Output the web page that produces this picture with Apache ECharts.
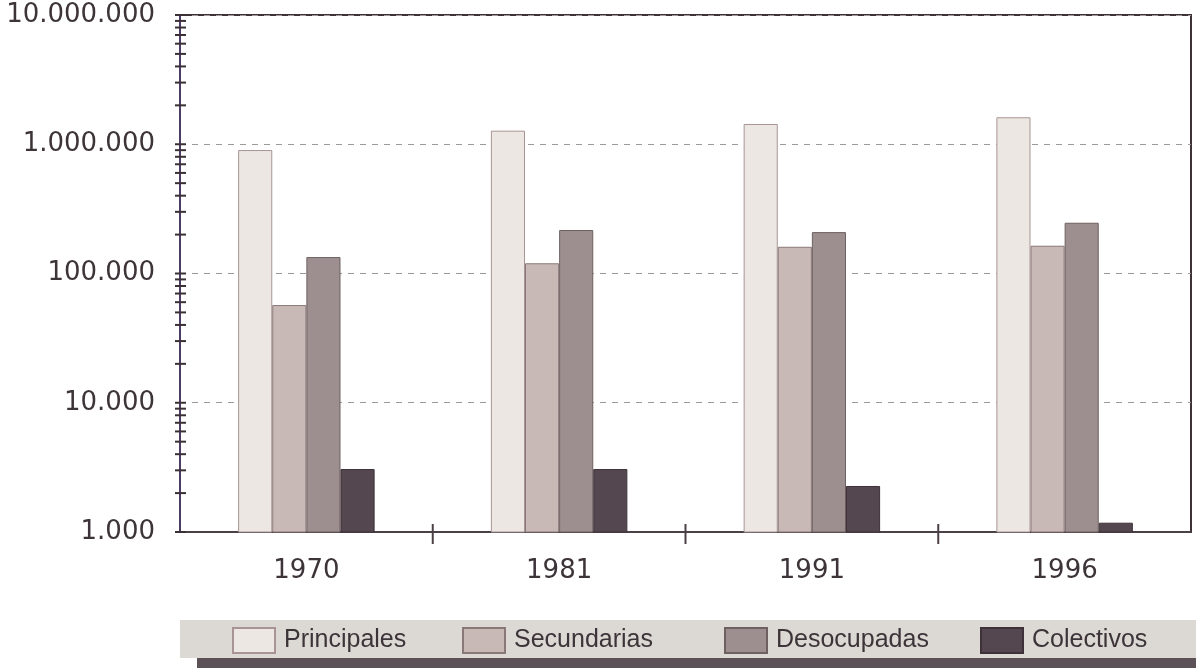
<!DOCTYPE html>
<html>
<head>
<meta charset="utf-8">
<script src="https://cdn.jsdelivr.net/npm/echarts@6/dist/echarts.min.js"></script>
<style>html,body{margin:0;padding:0;background:#fff;}#c{width:1196px;height:668px;}</style>
</head>
<body>
<div id="c"></div>
<script>
const years = ['1970', '1981', '1991', '1996'];
const principales = [902000, 1274000, 1435000, 1617000];
const secundarias = [57000, 120000, 161000, 164000];
const desocupadas = [134000, 217000, 209000, 247000];
const colectivos = [3070, 3070, 2270, 1180];
const seriesNames = ['Principales', 'Secundarias', 'Desocupadas', 'Colectivos'];
const yTickValues = [1000, 2000, 3000, 4000, 5000, 6000, 7000, 8000, 9000,
  10000, 20000, 30000, 40000, 50000, 60000, 70000, 80000, 90000,
  100000, 200000, 300000, 400000, 500000, 600000, 700000, 800000, 900000,
  1000000, 2000000, 3000000, 4000000, 5000000, 6000000, 7000000, 8000000, 9000000, 10000000];
const boundaryIdx = [1, 2, 3];

const fills = ['#ece7e2', '#c9b9b6', '#9d8f90', '#54474f'];
const borders = ['#a89494', '#8a7878', '#6e6060', '#3e3238'];
const textColor = '#3d3439';
const legendLefts = [232, 462, 724, 980];
const fmt = v => String(Math.round(v)).replace(/\B(?=(\d{3})+(?!\d))/g, '.');

const chart = echarts.init(document.getElementById('c'));
const values = [principales, secundarias, desocupadas, colectivos];
const bars = seriesNames.map((n, i) => ({
  name: n, type: 'bar', data: values[i],
  barGap: '0%', barCategoryGap: '46%',
  itemStyle: { color: fills[i], borderColor: borders[i], borderWidth: 1 },
  z: 3
}));

const legends = seriesNames.map((n, i) => ({
  data: [n], left: legendLefts[i], top: 627, z: 10, padding: 0,
  icon: 'rect', itemWidth: 42, itemHeight: 25,
  textStyle: { fontFamily: 'Liberation Sans', fontSize: 25, color: textColor, padding: [0, 0, 0, 4] },
  selectedMode: false
}));

chart.setOption({
  animation: false,
  backgroundColor: '#ffffff',
  graphic: [
    { type: 'rect', z: 0, shape: { x: 180, y: 620, width: 1016, height: 38 }, style: { fill: '#dcd8d4' } },
    { type: 'rect', z: 0, shape: { x: 197, y: 658, width: 999, height: 10 }, style: { fill: '#5b5157' } }
  ],
  grid: { left: 180, right: 5, top: 15, bottom: 136, show: true, borderColor: '#3e3238', borderWidth: 2, backgroundColor: 'transparent' },
  legend: legends,
  xAxis: {
    type: 'category', data: years,
    axisLine: { lineStyle: { color: '#4b4046', width: 2 } },
    axisTick: { show: false },
    axisLabel: { fontFamily: 'DejaVu Sans', fontSize: 26, color: textColor, margin: 26 }
  },
  yAxis: {
    type: 'log', logBase: 10, min: 1000, max: 10000000,
    axisLine: { show: true, lineStyle: { color: '#4b3c63', width: 2 } },
    axisTick: { show: false },
    splitLine: { show: true, lineStyle: { color: '#9a9a9a', type: [6, 6], width: 1 } },
    axisLabel: { fontFamily: 'DejaVu Sans', fontSize: 26, color: textColor, margin: 25, formatter: fmt }
  },
  series: bars.concat([
    {
      type: 'custom', name: 'yticks', silent: true, clip: false, z: 5,
      data: yTickValues.map(v => [0, v]),
      encode: { x: 0, y: 1 },
      renderItem: function (params, api) {
        const y = api.coord([0, api.value(1)])[1];
        const x = params.coordSys.x;
        return { type: 'line', shape: { x1: x - 5, y1: y, x2: x + 6, y2: y }, style: { stroke: '#3a3035', lineWidth: 2 } };
      }
    },
    {
      type: 'custom', name: 'xticks', silent: true, clip: false, z: 5,
      data: boundaryIdx.map(i => [i, 1000]),
      encode: { x: 0, y: 1 },
      renderItem: function (params, api) {
        const p = api.coord([api.value(0), 1000]);
        const bw = api.size([1, 0])[0];
        const x = p[0] - bw / 2;
        const y = params.coordSys.y + params.coordSys.height;
        return { type: 'line', shape: { x1: x, y1: y - 8, x2: x, y2: y + 12 }, style: { stroke: '#4b4046', lineWidth: 2 } };
      }
    }
  ])
});
</script>
</body>
</html>
